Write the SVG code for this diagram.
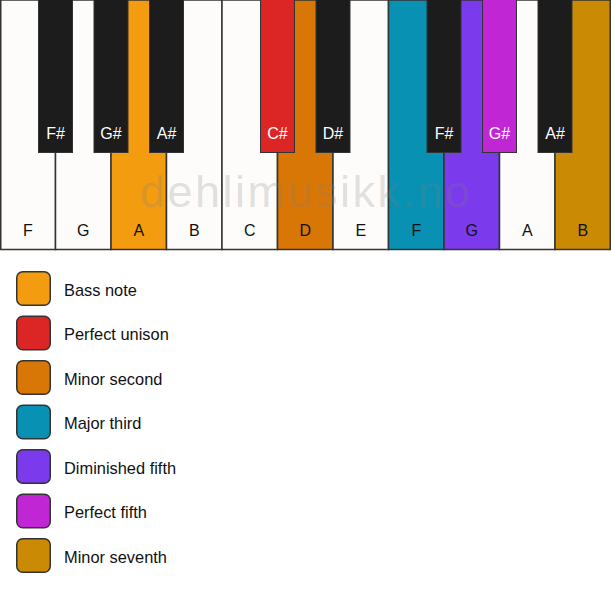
<svg xmlns="http://www.w3.org/2000/svg" width="611" height="594" viewBox="0 0 611 594">
<style>
.w{fill:#fdfcfa;stroke:#333;stroke-width:1.5}
.b{fill:#1c1c1c;stroke:#333;stroke-width:1}
.lw{font-family:"Liberation Sans",Arial,sans-serif;font-size:16px;fill:#111;text-anchor:middle}
.lb{font-family:"Liberation Sans",Arial,sans-serif;font-size:16px;fill:#fff;text-anchor:middle}
.lg{font-family:"Liberation Sans",Arial,sans-serif;font-size:16.4px;fill:#111}
.sq{stroke:#333;stroke-width:1.5}
</style>
<rect width="611" height="594" fill="#ffffff"/>
<g id="white-keys">
<g id="key-F1"><rect class="w" x="0.75" y="0" width="54.75" height="249.5"/><text class="lw" x="28" y="236">F</text></g>
<g id="key-G1"><rect class="w" x="55.5" y="0" width="55.5" height="249.5"/><text class="lw" x="83.3" y="236">G</text></g>
<g id="key-A1"><rect class="w" x="111" y="0" width="55.5" height="249.5" style="fill:#f39c0f"/><text class="lw" x="138.8" y="236">A</text></g>
<g id="key-B1"><rect class="w" x="166.5" y="0" width="55.5" height="249.5"/><text class="lw" x="194.3" y="236">B</text></g>
<g id="key-C"><rect class="w" x="222" y="0" width="55.5" height="249.5"/><text class="lw" x="249.8" y="236">C</text></g>
<g id="key-D"><rect class="w" x="277.5" y="0" width="55.5" height="249.5" style="fill:#d97706"/><text class="lw" x="305.3" y="236">D</text></g>
<g id="key-E"><rect class="w" x="333" y="0" width="55.5" height="249.5"/><text class="lw" x="360.8" y="236">E</text></g>
<g id="key-F2"><rect class="w" x="388.5" y="0" width="55.5" height="249.5" style="fill:#0891b2"/><text class="lw" x="416.3" y="236">F</text></g>
<g id="key-G2"><rect class="w" x="444" y="0" width="55.5" height="249.5" style="fill:#7c3aed"/><text class="lw" x="471.8" y="236">G</text></g>
<g id="key-A2"><rect class="w" x="499.5" y="0" width="55.5" height="249.5"/><text class="lw" x="527.3" y="236">A</text></g>
<g id="key-B2"><rect class="w" x="555" y="0" width="55.25" height="249.5" style="fill:#ca8a04"/><text class="lw" x="582.8" y="236">B</text></g>
</g>
<text x="140" y="206.5" font-family="'Liberation Sans',Arial,sans-serif" font-size="45" letter-spacing="2.5" fill="#808080" fill-opacity="0.24">dehlimusikk.no</text>
<g id="black-keys">
<g id="key-Fs1"><rect class="b" x="38.5" y="-1" width="34" height="153.5"/><text class="lb" x="55.5" y="139">F#</text></g>
<g id="key-Gs1"><rect class="b" x="94" y="-1" width="34" height="153.5"/><text class="lb" x="111" y="139">G#</text></g>
<g id="key-As1"><rect class="b" x="149.5" y="-1" width="34" height="153.5"/><text class="lb" x="166.5" y="139">A#</text></g>
<g id="key-Cs"><rect class="b" x="260.5" y="-1" width="34" height="153.5" style="fill:#dc2626"/><text class="lb" x="277.5" y="139">C#</text></g>
<g id="key-Ds"><rect class="b" x="316" y="-1" width="34" height="153.5"/><text class="lb" x="333" y="139">D#</text></g>
<g id="key-Fs2"><rect class="b" x="427" y="-1" width="34" height="153.5"/><text class="lb" x="444" y="139">F#</text></g>
<g id="key-Gs2"><rect class="b" x="482.5" y="-1" width="34" height="153.5" style="fill:#c026d3"/><text class="lb" x="499.5" y="139">G#</text></g>
<g id="key-As2"><rect class="b" x="538" y="-1" width="34" height="153.5"/><text class="lb" x="555" y="139">A#</text></g>
</g>
<g id="legend">
<g id="leg-bass"><rect class="sq" x="16.75" y="271.75" width="33.5" height="33.5" rx="6" fill="#f39c0f"/><text class="lg" x="64" y="295.5">Bass note</text></g>
<g id="leg-unison"><rect class="sq" x="16.75" y="316.25" width="33.5" height="33.5" rx="6" fill="#dc2626"/><text class="lg" x="64" y="340">Perfect unison</text></g>
<g id="leg-m2"><rect class="sq" x="16.75" y="360.75" width="33.5" height="33.5" rx="6" fill="#d97706"/><text class="lg" x="64" y="384.5">Minor second</text></g>
<g id="leg-M3"><rect class="sq" x="16.75" y="405.25" width="33.5" height="33.5" rx="6" fill="#0891b2"/><text class="lg" x="64" y="429">Major third</text></g>
<g id="leg-d5"><rect class="sq" x="16.75" y="449.75" width="33.5" height="33.5" rx="6" fill="#7c3aed"/><text class="lg" x="64" y="473.5">Diminished fifth</text></g>
<g id="leg-P5"><rect class="sq" x="16.75" y="494.25" width="33.5" height="33.5" rx="6" fill="#c026d3"/><text class="lg" x="64" y="518">Perfect fifth</text></g>
<g id="leg-m7"><rect class="sq" x="16.75" y="538.75" width="33.5" height="33.5" rx="6" fill="#ca8a04"/><text class="lg" x="64" y="562.5">Minor seventh</text></g>
</g>
</svg>
